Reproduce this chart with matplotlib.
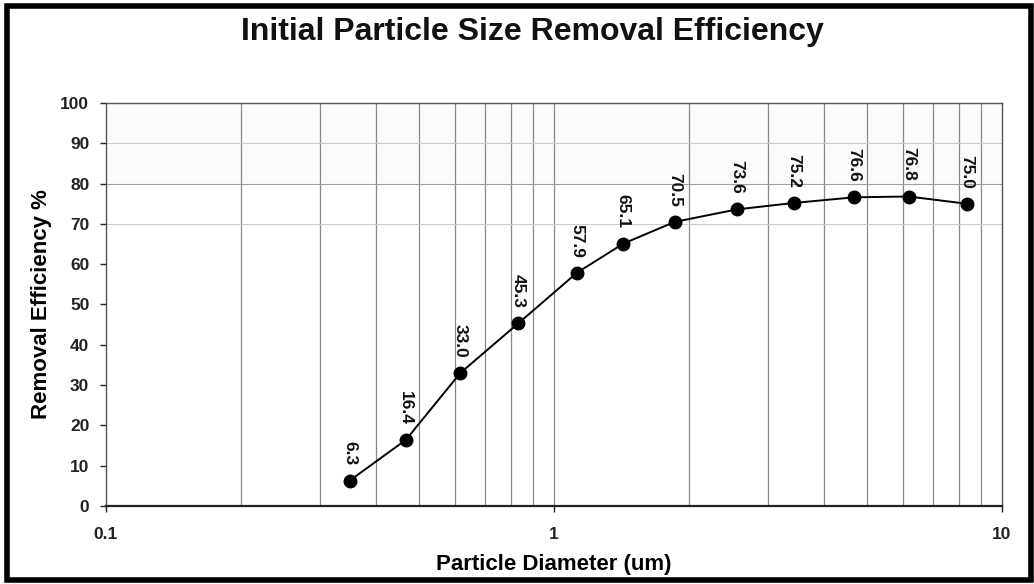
import matplotlib.pyplot as plt
from matplotlib.ticker import FixedLocator, NullFormatter
from matplotlib.patches import Rectangle

# particle diameters (um) and removal efficiency (%)
diameters = [0.35, 0.467, 0.618, 0.832, 1.126, 1.428, 1.86, 2.56, 3.43, 4.68, 6.19, 8.35]
efficiency = [6.3, 16.4, 33.0, 45.3, 57.9, 65.1, 70.5, 73.6, 75.2, 76.6, 76.8, 75.0]

x_ticks = [0.1, 1, 10]
x_tick_labels = ["0.1", "1", "10"]
y_ticks = list(range(0, 101, 10))
minor_grid = [0.2, 0.3, 0.4, 0.5, 0.6, 0.7, 0.8, 0.9, 1, 2, 3, 4, 5, 6, 7, 8, 9]
h_lines = [70, 80, 90]

plt.rcParams['font.family'] = ['Liberation Sans', 'DejaVu Sans']

fig = plt.figure(figsize=(10.34, 5.84), dpi=100)
ax = fig.add_axes([0.1025, 0.1336, 0.8665, 0.69])

# faint tint at the top of the plot area
ax.axhspan(80, 100, color="#f9fbfd", zorder=0, lw=0)
for v in minor_grid:
    ax.axvline(v, color="#8a8a8a", lw=0.9, zorder=1)
for h in h_lines:
    ax.axhline(h, color="#cccccc" if h != 80 else "#a0a0a0", lw=0.8, zorder=1)

ax.plot(diameters, efficiency, color="black", lw=1.4, marker="o",
        markersize=9, zorder=3)

for x, y in zip(diameters, efficiency):
    ax.annotate(f"{y:.1f}", (x, y), xytext=(0, 11), textcoords="offset points",
                rotation=-90, ha="center", va="bottom", fontsize=12.5,
                fontweight="bold", color="#111111")

ax.set_xscale("log")
ax.set_xlim(0.1, 10)
ax.set_ylim(0, 100)
ax.xaxis.set_major_locator(FixedLocator(x_ticks))
ax.set_xticklabels(x_tick_labels)
ax.xaxis.set_minor_formatter(NullFormatter())
ax.tick_params(axis="x", which="minor", length=0)
ax.set_yticks(y_ticks)
ax.tick_params(axis="both", which="major", length=4, width=1, labelsize=12.5,
               colors="#222222", pad=8)
ax.tick_params(axis="x", which="major", pad=11)
for lbl in ax.get_xticklabels() + ax.get_yticklabels():
    lbl.set_fontweight("bold")

for side in ["left", "top", "right"]:
    ax.spines[side].set_color("#555555")
    ax.spines[side].set_linewidth(1.0)
ax.spines["bottom"].set_color("#222222")
ax.spines["bottom"].set_linewidth(1.6)

ax.set_xlabel("Particle Diameter (um)", fontsize=16, fontweight="bold", labelpad=9)
ax.set_ylabel("Removal Efficiency %", fontsize=16, fontweight="bold", labelpad=6)
fig.text(0.515, 0.945, "Initial Particle Size Removal Efficiency", ha="center",
         va="center", fontsize=23, fontweight="bold", color="#111111")

# black frame around the picture
fig.patches.append(Rectangle((0.007, 0.006), 0.99, 0.983, transform=fig.transFigure,
                             fill=False, edgecolor="black", lw=4))

fig.savefig("out.png", dpi=100)
